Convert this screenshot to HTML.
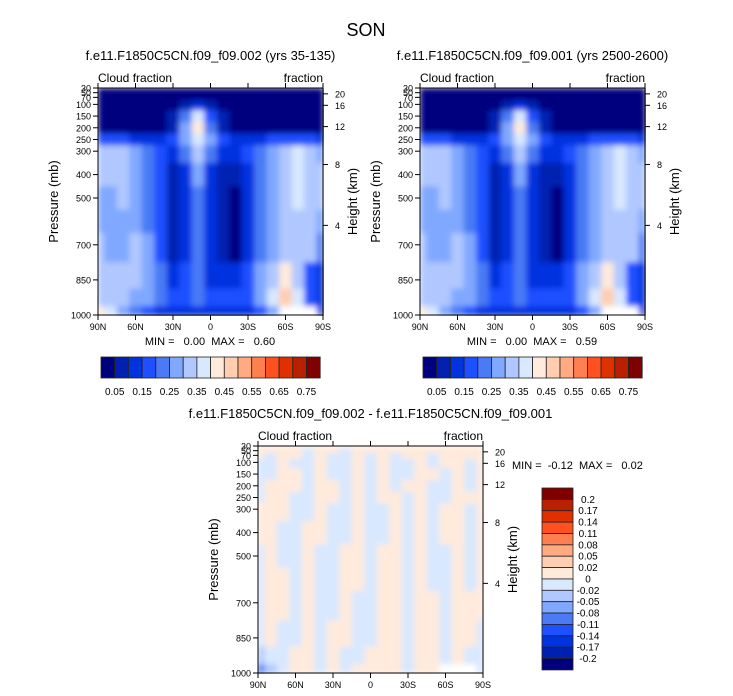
<!DOCTYPE html>
<html><head><meta charset="utf-8"><style>
body{margin:0;background:#fff;}
svg{display:block;font-family:"Liberation Sans",sans-serif;}
text{white-space:pre;}
</style></head><body>
<svg id="fig" width="733" height="696" viewBox="0 0 733 696" xmlns="http://www.w3.org/2000/svg">
<defs><filter id="sm" x="0" y="0" width="1" height="1"><feGaussianBlur stdDeviation="3" edgeMode="duplicate"/></filter></defs>
<text x="366" y="36" font-size="18" text-anchor="middle">SON</text>
</svg>
<script>
const lats=[90,80,70,60,50,40,30,20,10,0,-10,-20,-30,-40,-50,-60,-70,-80,-90];
const levels=[30,50,70,100,150,200,250,300,400,500,600,700,850,925,1000];
const pTicks=[30,50,70,100,150,200,250,300,400,500,700,850,1000];
const hTicks=[20,16,12,8,4];
const hTickP=[55,104,195,357,617];
const xTicks=["90N","60N","30N","0","30S","60S","90S"];
const xTickLat=[90,60,30,0,-30,-60,-90];
const cbLevels=["0.05","0.15","0.25","0.35","0.45","0.55","0.65","0.75"];
const diffLevels=["0.2","0.17","0.14","0.11","0.08","0.05","0.02","0","-0.02","-0.05","-0.08","-0.11","-0.14","-0.17","-0.2"];
const palette=["#00007f","#0020b0","#0033e0","#1e50ff","#4a7af5","#80a8ff","#b0c8ff","#d8e8ff","#ffeadb","#ffcdb0","#ffaa80","#ff7f50","#ff5020","#e03000","#b82000","#800000"];
const N=null;
const cloud1=[
[0,0,0,0,0,0,0,0,0,0,0,0,0,0,0,0,0,0,0],
[0,0,0,0,0,0,0,0,0,0,0,0,0,0,0,0,0,0,0],
[0,0,0,0,0,0,0,0,0.02,0,0,0,0,0,0,0,0,0,0],
[0,0,0,0,0,0,0,0.07,0.14,0.06,0,0,0,0,0,0,0,0,0],
[0,0,0,0,0,0,0.05,0.2,0.38,0.18,0.06,0.03,0,0,0,0,0,0,0],
[0,0,0,0,0,0.02,0.07,0.25,0.44,0.24,0.08,0.03,0.02,0,0,0,0,0,0],
[0.15,0.15,0.15,0.12,0.12,0.12,0.15,0.25,0.38,0.25,0.15,0.12,0.12,0.12,0.15,0.18,0.18,0.15,0.12],
[0.32,0.33,0.3,0.25,0.2,0.15,0.13,0.2,0.33,0.2,0.13,0.12,0.15,0.2,0.27,0.33,0.36,0.3,0.27],
[0.32,0.33,0.32,0.27,0.22,0.15,0.08,0.12,0.25,0.12,0.08,0.06,0.12,0.2,0.28,0.34,0.38,0.33,0.3],
[0.28,0.28,0.3,0.27,0.22,0.15,0.07,0.12,0.23,0.12,0.06,0.03,0.1,0.2,0.27,0.32,0.36,0.32,0.3],
[0.27,0.26,0.26,0.26,0.22,0.15,0.07,0.12,0.2,0.12,0.06,0.04,0.1,0.2,0.25,0.3,0.32,0.3,0.25],
[0.3,0.27,0.27,0.3,0.25,0.17,0.08,0.14,0.22,0.12,0.07,0.03,0.12,0.2,0.27,0.32,0.33,0.3,0.22],
[0.32,0.3,0.3,0.32,0.27,0.2,0.12,0.18,0.22,0.14,0.12,0.1,0.15,0.25,0.32,0.42,0.33,0.18,0.12],
[0.33,0.32,0.3,0.27,0.25,0.2,0.15,0.18,0.2,0.17,0.15,0.15,0.18,0.25,0.35,0.47,0.38,0.18,0.12],
[0.42,0.35,0.27,0.2,0.15,0.12,0.1,0.12,0.12,0.12,0.1,0.1,0.12,0.15,0.25,N,N,N,0.12]];
const cloud2=cloud1.map(r=>r.slice());
const P=0.01,M=-0.01;
const diff=[
[P,P,P,P,P,P,P,P,P,P,P,P,P,P,P,P,P,P,P],
[P,P,P,P,M,P,P,M,P,P,P,P,P,P,P,P,P,P,P],
[P,M,P,P,M,P,M,M,P,M,P,M,P,P,M,P,P,P,P],
[M,M,P,M,M,P,M,M,P,M,P,M,M,P,M,P,P,M,P],
[M,M,P,P,M,P,M,M,P,M,P,M,M,P,P,M,P,M,P],
[M,P,P,P,M,P,P,M,P,M,P,M,P,P,M,M,P,M,P],
[M,P,P,M,M,P,P,M,P,M,P,P,M,P,M,M,P,P,P],
[P,P,P,M,M,P,M,M,P,M,M,P,M,P,M,P,P,M,P],
[P,P,M,M,P,P,M,M,P,M,M,P,M,P,M,P,P,M,P],
[M,P,M,M,P,M,M,P,P,M,P,P,M,P,M,M,P,M,P],
[M,P,P,M,P,M,M,P,P,M,P,P,M,P,M,M,P,M,P],
[M,P,P,M,P,M,M,P,M,M,P,P,M,P,P,M,P,P,P],
[M,P,M,M,P,M,P,P,M,M,P,P,M,P,P,M,P,P,M],
[-0.03,M,M,P,P,M,P,M,M,P,P,P,M,P,P,M,P,M,M],
[-0.09,-0.03,M,P,P,M,P,M,P,P,P,P,M,P,P,N,N,N,M]];

const svg=document.getElementById('fig');
const NS="http://www.w3.org/2000/svg";
function mk(tag,attrs,parent){const e=document.createElementNS(NS,tag);for(const k in attrs)e.setAttribute(k,attrs[k]);(parent||svg).appendChild(e);return e;}
function txt(x,y,s,size,anchor,rot){const t=mk('text',{x:x,y:y,'font-size':size,'text-anchor':anchor||'middle'});if(rot)t.setAttribute('transform','rotate(-90 '+x+' '+y+')');t.textContent=s;return t;}
function cloudColor(v){let i=Math.floor(v/0.05+1e-9);i=Math.max(0,Math.min(15,i));return palette[i];}
const dEdges=[-0.2,-0.17,-0.14,-0.11,-0.08,-0.05,-0.02,0,0.02,0.05,0.08,0.11,0.14,0.17,0.2];
function diffColor(v){let i=0;while(i<dEdges.length&&v>=dEdges[i])i++;return palette[i];}

function panel(ox,oy,data,colorFn,title,nm){
  const W=225,H=227;
  const xs=lat=>ox+(90-lat)/180*W;
  const ys=p=>oy+(p-30)/970*H;
  let t=txt(ox+W/2,oy-28,title,13,'middle');
  
  
  t=txt(ox,oy-6,'Cloud fraction',12,'start');
  
  
  t=txt(ox+W,oy-6,'fraction',12,'end');
  
  
  const g=mk('g',{filter:'url(#sm)'});
  
  
  for(let r=0;r<levels.length;r++){
    const p0=r==0?levels[0]:(levels[r-1]+levels[r])/2;
    const p1=r==levels.length-1?levels[r]:(levels[r]+levels[r+1])/2;
    for(let c=0;c<lats.length;c++){
      const v=data[r][c];
      const l0=Math.min(90,lats[c]+5),l1=Math.max(-90,lats[c]-5);
      const cell=mk('rect',{x:xs(l0),y:ys(p0),width:xs(l1)-xs(l0)+0.6,height:ys(p1)-ys(p0)+0.6,fill:v===null?'#ffffff':colorFn(v)},g);
      
      
    }
  }
  const fr=mk('rect',{x:ox,y:oy,width:W,height:H,fill:'none',stroke:'#000','stroke-width':1});
  
  
  pTicks.forEach(p=>{
    mk('line',{x1:ox-5,x2:ox,y1:ys(p),y2:ys(p),stroke:'#000'});
    const l=txt(ox-7,ys(p)+3.5,String(p),9,'end');
    
    
  });
  hTicks.forEach((h,i)=>{
    const y=ys(hTickP[i]);
    mk('line',{x1:ox+W,x2:ox+W+5,y1:y,y2:y,stroke:'#000'});
    const l=txt(ox+W+12,y+3.5,String(h),9,'start');
    
    
  });
  xTicks.forEach((s,i)=>{
    const x=xs(xTickLat[i]);
    mk('line',{x1:x,x2:x,y1:oy+H,y2:oy+H+5,stroke:'#000'});
    mk('line',{x1:x,x2:x,y1:oy,y2:oy-5,stroke:'#000'});
    const l=txt(x,oy+H+15,s,9,'middle');
    
    
  });
  t=txt(ox-40,oy+H/2,'Pressure (mb)',13,'middle',true);
  
  
  t=txt(ox+W+34,oy+H/2,'Height (km)',13,'middle',true);
  
  
}
function hbar(ox,oy,nm){
  const w=13.7,h=21;
  for(let i=0;i<16;i++){
    const b=mk('rect',{x:ox+i*w,y:oy,width:w,height:h,fill:palette[i],stroke:'#222','stroke-width':0.8});
    
    
  }
  cbLevels.forEach((s,i)=>{
    const l=txt(ox+(2*i+1)*w,oy+h+17,s,10,'middle');
    
    
  });
}
panel(98,88,cloud1,cloudColor,'f.e11.F1850C5CN.f09_f09.002 (yrs 35-135)','case1');
panel(420,88,cloud2,cloudColor,'f.e11.F1850C5CN.f09_f09.001 (yrs 2500-2600)','case2');
panel(258,446,diff,diffColor,'f.e11.F1850C5CN.f09_f09.002 - f.e11.F1850C5CN.f09_f09.001','diff');
let s=txt(210,345,'MIN =   0.00  MAX =   0.60',11,'middle');


s=txt(532,345,'MIN =   0.00  MAX =   0.59',11,'middle');


s=txt(512,469,'MIN =  -0.12  MAX =   0.02',11,'start');


hbar(101,357,'case1-colorbar');
hbar(423,357,'case2-colorbar');
for(let i=0;i<16;i++){
  const b=mk('rect',{x:542,y:488+i*11.37,width:31,height:11.37,fill:palette[15-i],stroke:'#222','stroke-width':0.8});
  
  
}
diffLevels.forEach((v,i)=>{
  const l=txt(588,488+(i+1)*11.37+3.5,v,10,'middle');
  
  
});
</script>
</body></html>
